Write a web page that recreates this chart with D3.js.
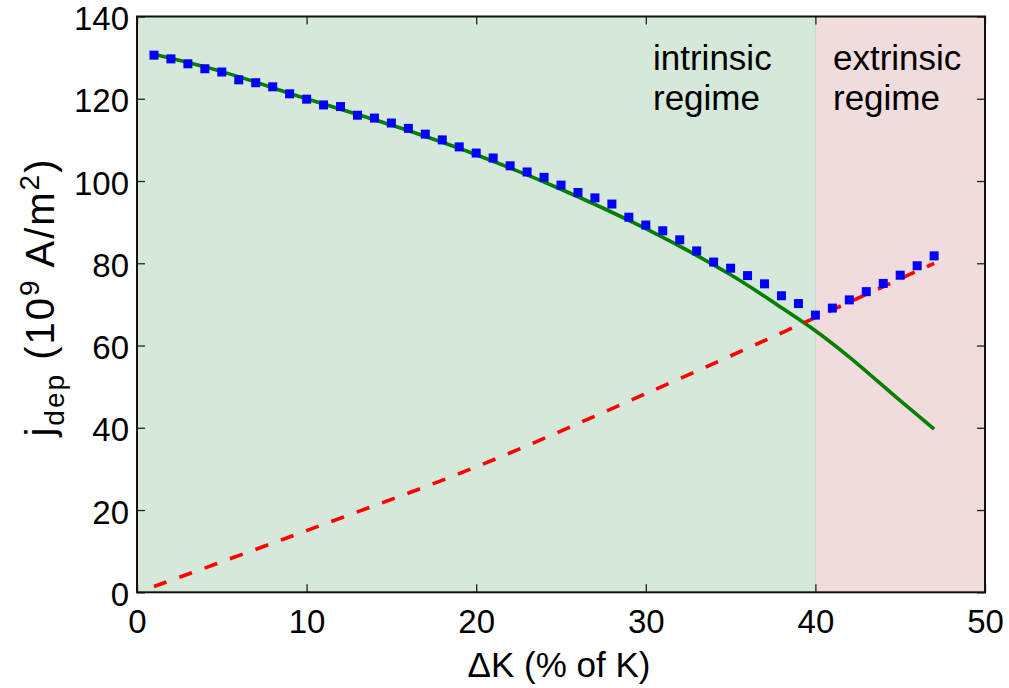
<!DOCTYPE html>
<html>
<head>
<meta charset="utf-8">
<script src="https://cdn.jsdelivr.net/npm/d3@7"></script>
<style>
  html, body { margin: 0; padding: 0; background: #ffffff; }
  svg { display: block; font-family: "Liberation Sans", Arial, Helvetica, sans-serif; }
</style>
</head>
<body>
<svg id="chart" width="1009" height="688"></svg>
<script>
// ---- data ----
const xTicks = [0, 10, 20, 30, 40, 50];
const yTicks = [0, 20, 40, 60, 80, 100, 120, 140];

// simulated points (blue squares)
const simX = [1,2,3,4,5,6,7,8,9,10,11,12,13,14,15,16,17,18,19,20,21,22,23,24,25,26,27,28,29,30,31,32,33,34,35,36,37,38,39,40,41,42,43,44,45,46,47];
const simY = [130.6,129.7,128.5,127.3,126.5,124.6,123.9,122.9,121.2,119.9,118.5,118.1,116.0,115.3,114.1,112.8,111.4,110.0,108.3,106.8,105.6,103.7,102.2,100.9,99.0,97.2,95.9,94.4,91.2,89.3,87.9,85.7,83.0,80.3,78.8,77.0,75.0,72.1,70.2,67.4,69.1,71.1,73.1,75.1,77.1,79.4,81.8];

// intrinsic model (green solid)
const intrX = [1, 5, 10, 15, 20, 25, 30, 35, 38, 40, 42, 45, 47];
const intrY = [130.8, 126.6, 120.0, 113.6, 106.4, 98.0, 88.4, 77.2, 69.2, 63.6, 57.2, 46.6, 39.7];

// extrinsic model (red dashed)
const extrX = [1, 10, 20, 30, 40, 47];
const extrY = [1.4, 15.0, 30.5, 48.3, 66.8, 80.0];

// regimes
const regimes = [
  { name: ["intrinsic", "regime"], from: 0, to: 40, fill: "#d6e8da" },
  { name: ["extrinsic", "regime"], from: 40, to: 50, fill: "#f0dcdd" }
];

// ---- layout ----
const L = 137, R = 985, T = 16.5, B = 592.3;
const svg = d3.select("#chart");
const x = d3.scaleLinear().domain([0, 50]).range([L, R]);
const y = d3.scaleLinear().domain([0, 140]).range([B, T]);
const FS = 33;

// regime backgrounds
svg.selectAll("rect.regime").data(regimes).enter().append("rect")
  .attr("class", "regime")
  .attr("x", d => x(d.from)).attr("y", T)
  .attr("width", d => x(d.to) - x(d.from)).attr("height", B - T)
  .attr("fill", d => d.fill);

svg.append("line")
  .attr("x1", x(40)).attr("x2", x(40)).attr("y1", T).attr("y2", B)
  .attr("stroke", "#c9d6cc").attr("stroke-width", 1);

// curves
const lineIntr = d3.line().x((d, i) => x(intrX[i])).y(d => y(d)).curve(d3.curveCatmullRom);
svg.append("path").attr("d", lineIntr(intrY))
  .attr("fill", "none").attr("stroke", "#007f00").attr("stroke-width", 3.6);

const lineExtr = d3.line().x((d, i) => x(extrX[i])).y(d => y(d)).curve(d3.curveCatmullRom);
svg.append("path").attr("d", lineExtr(extrY))
  .attr("fill", "none").attr("stroke", "#ff0000").attr("stroke-width", 3.6)
  .attr("stroke-dasharray", "13.5,13.5");

// squares
const S = 9;
svg.selectAll("rect.sim").data(simY).enter().append("rect")
  .attr("class", "sim")
  .attr("x", (d, i) => x(simX[i]) - S / 2)
  .attr("y", d => y(d) - S / 2)
  .attr("width", S).attr("height", S)
  .attr("fill", "#0000ff");

// axes (inward ticks, box)
function style(g) {
  g.select(".domain").remove();
  g.selectAll(".tick line").attr("stroke", "#222").attr("stroke-width", 1.3);
  g.selectAll(".tick text").attr("font-size", FS).attr("fill", "#000")
    .attr("font-family", "'Liberation Sans', Arial, Helvetica, sans-serif");
}
svg.append("g").attr("transform", `translate(0,${B})`)
  .call(d3.axisBottom(x).tickValues(xTicks).tickSizeInner(-8).tickSizeOuter(0).tickPadding(17).tickFormat(d3.format("d")))
  .call(style);
svg.append("g").attr("transform", `translate(0,${T})`)
  .call(d3.axisTop(x).tickValues(xTicks).tickSizeInner(-8).tickSizeOuter(0).tickFormat(""))
  .call(style);
svg.append("g").attr("transform", `translate(${L},0)`)
  .call(d3.axisLeft(y).tickValues(yTicks).tickSizeInner(-8).tickSizeOuter(0).tickPadding(8).tickFormat(d3.format("d")))
  .call(style)
  .selectAll(".tick text").attr("dy", "0.4em");
svg.append("g").attr("transform", `translate(${R},0)`)
  .call(d3.axisRight(y).tickValues(yTicks).tickSizeInner(-8).tickSizeOuter(0).tickFormat(""))
  .call(style);

svg.append("rect")
  .attr("x", L).attr("y", T).attr("width", R - L).attr("height", B - T)
  .attr("fill", "none").attr("stroke", "#111").attr("stroke-width", 2);

// regime labels
const labelPos = [{ x: 653, y: 70 }, { x: 833, y: 70 }];
regimes.forEach((r, i) => {
  const t = svg.append("text").attr("x", labelPos[i].x).attr("y", labelPos[i].y)
    .attr("font-size", 35).attr("fill", "#000");
  r.name.forEach((w, k) => {
    t.append("tspan").attr("x", labelPos[i].x).attr("dy", k === 0 ? 0 : 40).text(w);
  });
});

// axis titles
svg.append("text").attr("x", 559).attr("y", 677).attr("text-anchor", "middle")
  .attr("font-size", 35).attr("fill", "#000").text("ΔK (% of K)");

const yl = svg.append("text")
  .attr("transform", "translate(54,297) rotate(-90)")
  .attr("text-anchor", "middle").attr("font-size", 40).attr("fill", "#000")
  .attr("letter-spacing", 2);
yl.append("tspan").text("j");
yl.append("tspan").attr("font-size", 28).attr("dy", 10).text("dep");
yl.append("tspan").attr("dy", -10).text(" (10");
yl.append("tspan").attr("font-size", 28).attr("dy", -15).text("9");
yl.append("tspan").attr("dy", 15).text(" A/m");
yl.append("tspan").attr("font-size", 28).attr("dy", -15).text("2");
yl.append("tspan").attr("dy", 15).text(")");
</script>
</body>
</html>
